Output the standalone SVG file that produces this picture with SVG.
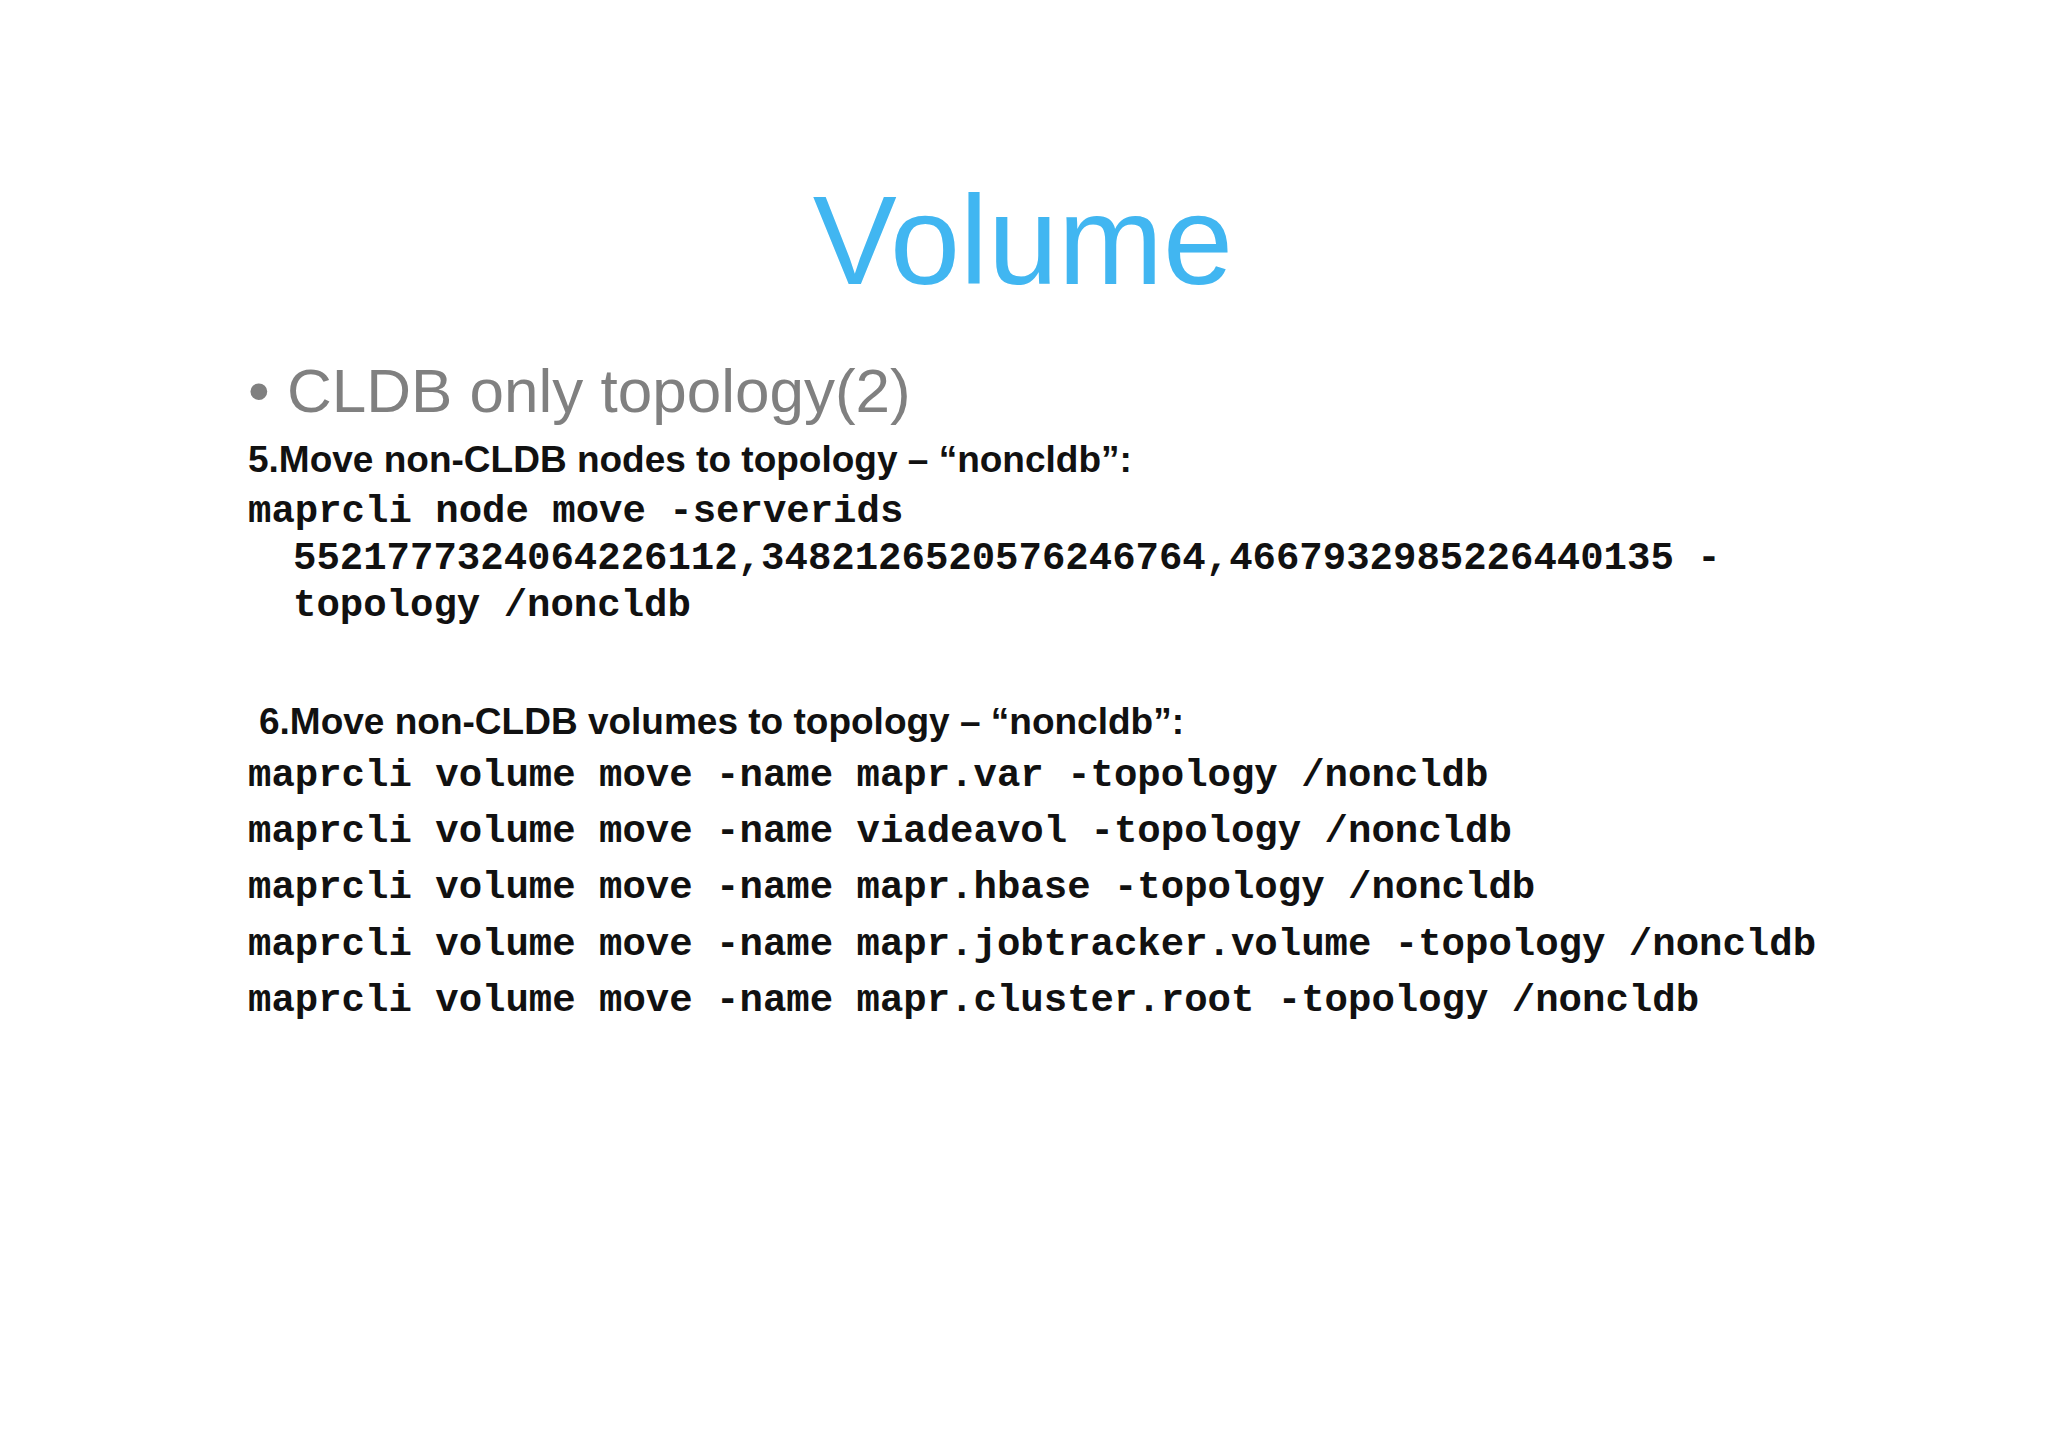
<svg xmlns="http://www.w3.org/2000/svg" width="2048" height="1447" viewBox="0 0 2048 1447">
<style>
.m{font-family:"Liberation Mono",monospace;font-weight:bold;font-size:39px;fill:#111}
.h{font-family:"Liberation Sans",Arial,sans-serif;font-weight:bold;font-size:37px;fill:#111}
</style>
<rect width="2048" height="1447" fill="#fff"/>
<g id="title"><text x="1023" y="284" text-anchor="middle" font-family="Liberation Sans,Arial,sans-serif" font-size="126" fill="#41b6f1">Volume</text></g>
<g id="bullet"><text x="248" y="412" font-family="Liberation Sans,Arial,sans-serif" font-size="62" fill="#808080">• CLDB only topology(2)</text></g>
<g id="step5">
<text class="h" x="248" y="472">5.Move non-CLDB nodes to topology – “noncldb”:</text>
<text class="m" x="248" y="522">maprcli node move -serverids</text>
<text class="m" x="293" y="569">5521777324064226112,3482126520576246764,4667932985226440135 -</text>
<text class="m" x="293" y="616">topology /noncldb</text>
</g>
<g id="step6">
<text class="h" x="259" y="734">6.Move non-CLDB volumes to topology – “noncldb”:</text>
<text class="m" x="248" y="786">maprcli volume move -name mapr.var -topology /noncldb</text>
<text class="m" x="248" y="842">maprcli volume move -name viadeavol -topology /noncldb</text>
<text class="m" x="248" y="898">maprcli volume move -name mapr.hbase -topology /noncldb</text>
<text class="m" x="248" y="955">maprcli volume move -name mapr.jobtracker.volume -topology /noncldb</text>
<text class="m" x="248" y="1011">maprcli volume move -name mapr.cluster.root -topology /noncldb</text>
</g>
<g id="connectors"/>
</svg>
